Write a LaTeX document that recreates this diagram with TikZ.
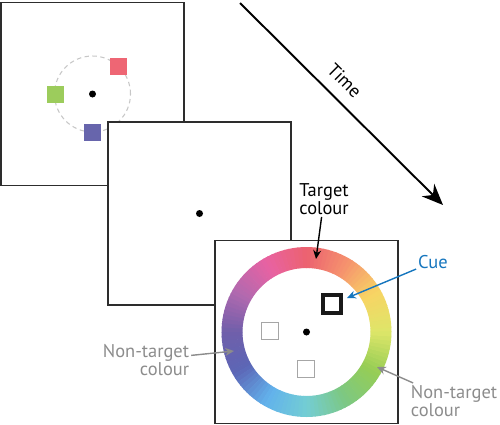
\documentclass[tikz,border=0pt]{standalone}
\usepackage{fontspec}
\setmainfont{PT Sans}
\usepackage{xcolor}
\usetikzlibrary{arrows.meta}

\definecolor{frame}{RGB}{45,45,45}
\definecolor{sqred}{RGB}{238,102,116}
\definecolor{sqgreen}{RGB}{156,204,92}
\definecolor{sqblue}{RGB}{103,101,172}
\definecolor{cueblue}{RGB}{22,118,190}
\definecolor{labelgray}{RGB}{140,140,140}
% colour wheel stops, every 30 degrees
\definecolor{hue0}{RGB}{222,230,105}
\definecolor{hue1}{RGB}{248,212,100}
\definecolor{hue2}{RGB}{245,145,110}
\definecolor{hue3}{RGB}{236,98,112}
\definecolor{hue4}{RGB}{232,98,162}
\definecolor{hue5}{RGB}{178,105,175}
\definecolor{hue6}{RGB}{112,95,170}
\definecolor{hue7}{RGB}{92,102,182}
\definecolor{hue8}{RGB}{98,178,236}
\definecolor{hue9}{RGB}{115,205,212}
\definecolor{hue10}{RGB}{125,200,130}
\definecolor{hue11}{RGB}{150,205,85}
\definecolor{hue12}{RGB}{222,230,105}

\tikzset{
  panel/.style={draw=frame, line width=0.8pt, fill=white, minimum size=3.66cm, inner sep=0pt},
  item/.style={minimum size=0.34cm, inner sep=0pt},
  label/.style={font=\fontsize{10.5}{9.2}\selectfont, inner sep=1pt},
  pointer/.style={line width=0.8pt, -{Stealth[length=5pt,width=4.5pt]}},
  fix/.style={circle, fill=black, minimum size=0.14cm, inner sep=0pt}
}

\begin{document}
\begin{tikzpicture}[x=0.02cm, y=0.02cm]
\useasboundingbox (0,0) rectangle (500,424);

% time arrow
\coordinate (t0) at (240,421);
\coordinate (t1) at (443,219);
\draw[line width=1.1pt, -{Stealth[length=12pt,width=10pt]}] (t0) -- node[pos=0.45, sloped, above, yshift=3pt, font=\fontsize{10.5}{9.2}\selectfont] (time) {Time} (t1);

% memory display
\node[panel] (first) at (92.5,330) {};
\draw[black!22, line width=0.6pt, dash pattern=on 2.5pt off 2pt] (first.center) circle (38);
\node[fix] (fix1) at (first.center) {};
\node[item, fill=sqred] (red) at (118.7,358) {};
\node[item, fill=sqgreen] (green) at (55.7,330) {};
\node[item, fill=sqblue] (blue) at (92.5,292) {};

% delay
\node[panel] (second) at (199.5,210.5) {};
\node[fix] (fix2) at (second.center) {};

% test display
\node[panel] (third) at (306.5,92) {};
\foreach \s in {0,...,11}{
  \pgfmathtruncatemacro\n{\s+1}
  \foreach \k in {0,...,9}{
    \pgfmathsetmacro\a{30*\s+3*\k}
    \pgfmathsetmacro\b{\a+3.4}
    \pgfmathtruncatemacro\p{10*\k+5}
    \fill[hue\n!\p!hue\s] ([shift={(\a:64)}]third.center) arc[start angle=\a, end angle=\b, radius=64]
      -- ([shift={(\b:85)}]third.center) arc[start angle=\b, end angle=\a, radius=85] -- cycle;
  }
}
\node[fix] (fix3) at (third.center) {};
\node[item, draw=black!90, line width=1.8pt, minimum size=0.36cm] (cuebox) at (332,120) {};
\node[item, draw=black!35, line width=0.5pt] (other1) at (269.7,93.5) {};
\node[item, draw=black!35, line width=0.5pt] (other2) at (306,55.5) {};

% labels
\node[label, align=center] (target) at (324,225) {Target\\colour};
\coordinate (targettip) at (316,165);
\draw[pointer, black] (target) -- (targettip);

\node[label, text=cueblue] (cue) at (433,162) {Cue};
\coordinate (cuetip) at (347,126);
\draw[pointer, cueblue] (cue) -- (cuetip);

\node[label, text=labelgray, align=left] (nonright) at (454,23) {Non-target\\colour};
\coordinate (righttip) at (377,57);
\draw[pointer, labelgray] (nonright) -- (righttip);

\node[label, text=labelgray, align=right] (nonleft) at (146,64) {Non-target\\colour};
\coordinate (lefttip) at (234,73);
\draw[pointer, labelgray] (nonleft) -- (lefttip);
\end{tikzpicture}
\end{document}
